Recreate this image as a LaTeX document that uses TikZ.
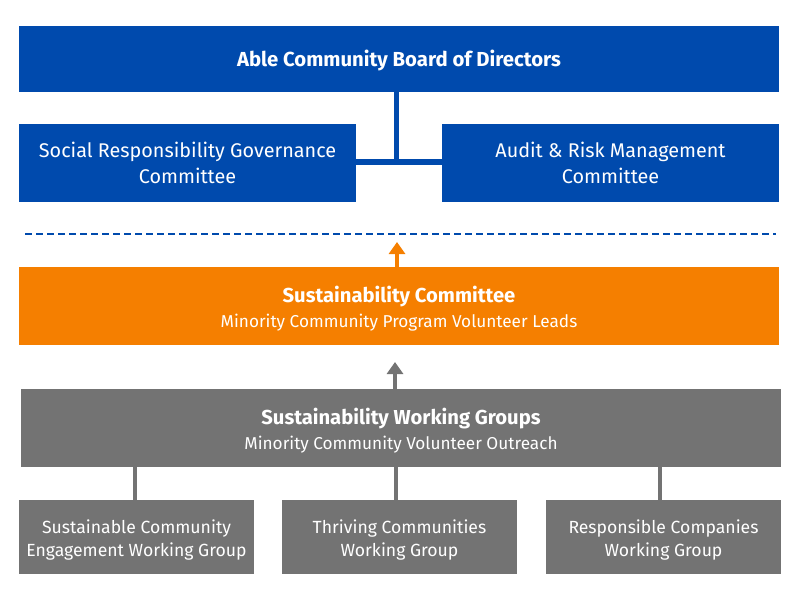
\documentclass[tikz,border=0pt]{standalone}
\usepackage{fontspec}
\setmainfont{Fira Sans}
\usetikzlibrary{arrows.meta}
\definecolor{cblue}{HTML}{004AAD}
\definecolor{corange}{HTML}{F57F00}
\definecolor{cgray}{HTML}{737373}
\begin{document}
\begin{tikzpicture}[x=1pt,y=-1pt,
  box/.style={draw=none,inner sep=0pt,text=white,align=center},
  bluebox/.style={box,fill=cblue},
  orangebox/.style={box,fill=corange},
  graybox/.style={box,fill=cgray},
  bigtxt/.style={font=\fontsize{19.8}{26}\selectfont},
  midtxt/.style={font=\fontsize{17.2}{25}\selectfont},
  smalltxt/.style={font=\fontsize{17.6}{23}\selectfont},
  uptip/.style={-{Triangle[width=16pt,length=12pt]}},
]
\useasboundingbox (0,0) rectangle (800,600);
% boxes
\node[bluebox,minimum width=760,minimum height=66] (board) at (399,59) {};
\node[box,font=\fontsize{20.3}{22}\selectfont\bfseries] at (399,60.5) {Able Community Board of Directors};
\node[bluebox,bigtxt,minimum width=337,minimum height=78] (srg) at (187.5,162.5) {Social Responsibility Governance\\Committee};
\node[bluebox,bigtxt,minimum width=337,minimum height=78] (audit) at (610.5,162.5) {Audit \& Risk Management\\Committee};
\node[orangebox,midtxt,minimum width=760,minimum height=78] (sc) at (399,306) {};
\node[box,midtxt] at (399,309) {\textbf{\fontsize{20.2}{25}\selectfont Sustainability Committee}\\Minority Community Program Volunteer Leads};
\node[graybox,midtxt,minimum width=760,minimum height=78] (swg) at (401,428) {};
\node[box,midtxt] at (401,430.5) {\textbf{\fontsize{20.2}{25}\selectfont Sustainability Working Groups}\\Minority Community Volunteer Outreach};
\node[graybox,smalltxt,minimum width=235,minimum height=74] (g1) at (136.5,537) {};
\node[graybox,smalltxt,minimum width=235,minimum height=74] (g2) at (399.5,537) {};
\node[graybox,smalltxt,minimum width=235,minimum height=74] (g3) at (663.5,537) {};
\node[box,smalltxt] at (136.5,540) {Sustainable Community\\Engagement Working Group};
\node[box,smalltxt] at (399.5,540) {Thriving Communities\\Working Group};
\node[box,smalltxt] at (663.5,540) {Responsible Companies\\Working Group};
% board connectors
\coordinate (j) at (396.5,162);
\draw[cblue,line width=5] (board.south -| j) -- (j);
\draw[cblue,line width=6] (srg.east |- j) -- (audit.west |- j);
% dashed separator
\coordinate (d1) at (25,234);
\coordinate (d2) at (776,234);
\draw[cblue,line width=1.5,dash pattern=on 7pt off 4pt] (d1) -- (d2);
% arrows
\coordinate (oa) at (397,242);
\draw[corange,line width=4,uptip] (sc.north -| oa) -- (oa);
\coordinate (ga) at (395,362);
\draw[cgray,line width=4,uptip] (swg.north -| ga) -- (ga);
% working group connectors
\draw[cgray,line width=4] (swg.south -| 135,0) -- (g1.north -| 135,0);
\draw[cgray,line width=4] (swg.south -| 396,0) -- (g2.north -| 396,0);
\draw[cgray,line width=4] (swg.south -| 660,0) -- (g3.north -| 660,0);
\end{tikzpicture}
\end{document}
